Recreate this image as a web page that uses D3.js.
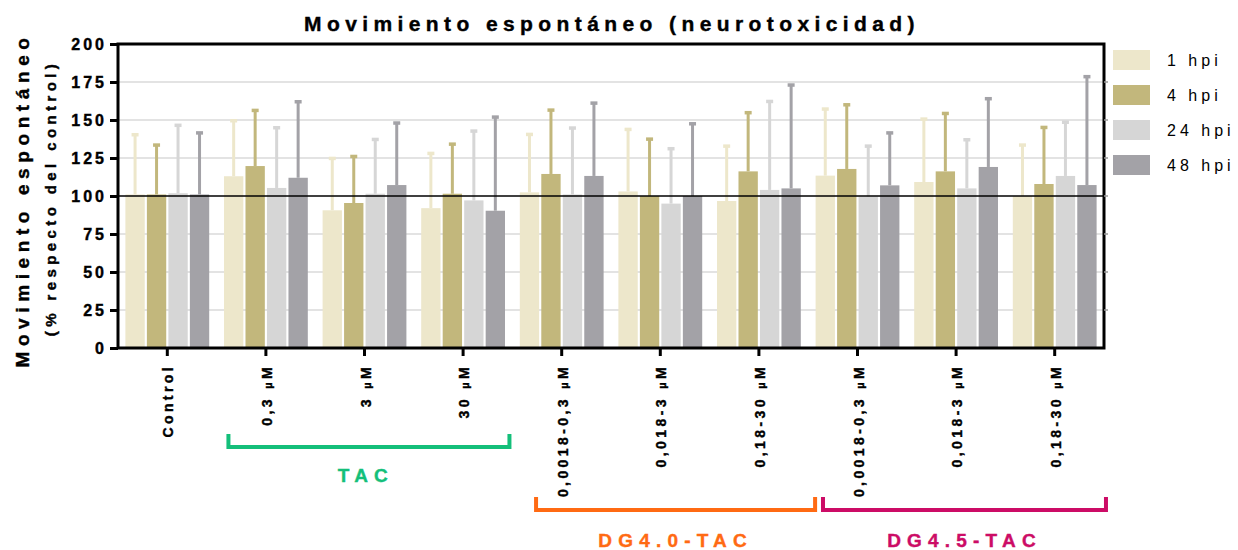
<!DOCTYPE html>
<html>
<head>
<meta charset="utf-8">
<script src="https://cdn.jsdelivr.net/npm/d3@7"></script>
<style>
  body { margin: 0; background: #fff; }
  svg { display: block; font-family: "Liberation Sans", Arial, sans-serif; }
  .heavy { stroke: currentColor; stroke-width: 0.4px; }
</style>
</head>
<body>
<svg id="chart" width="1238" height="550"></svg>
<script>
// categories on the x axis (dose, µM shown as tspan)
const categories = ["Control", "0,3", "3", "30", "0,0018-0,3", "0,018-3", "0,18-30", "0,0018-0,3", "0,018-3", "0,18-30"];
const series = ["1 hpi", "4 hpi", "24 hpi", "48 hpi"];
const colors = ["#ede7cb", "#c2b77c", "#d6d6d6", "#a3a2a7"];

// mean values (% of control) per series
const hpi1  = [101, 113, 90.6, 92, 102.4, 103, 96.7, 113.4, 109.2, 100];
const hpi4  = [101, 119.7, 95.4, 101.5, 114.5, 100, 116.2, 117.8, 116.2, 107.9];
const hpi24 = [101.8, 105.3, 101.5, 97.1, 101, 95, 104, 99.6, 105, 113.2];
const hpi48 = [101, 112, 107.2, 90.3, 113.2, 100, 105, 107, 119.1, 107.2];

// upper end of the error bars
const err1  = [140.8, 150, 125.2, 128.5, 141, 144.3, 133.3, 157.7, 151.1, 134];
const err4  = [134, 156.8, 126.5, 134.6, 157, 137.9, 155.3, 160.5, 154.8, 145.6];
const err24 = [147, 145.4, 137.7, 143.2, 145.2, 131.6, 162.7, 133.3, 137.5, 149];
const err48 = [142, 162.5, 148.5, 152.4, 161.6, 148, 173.5, 142, 164.5, 179];

const yTicks = [0, 25, 50, 75, 100, 125, 150, 175, 200];

// group brackets under the axis, in category index units
const groupNames = ["TAC", "DG4.0-TAC", "DG4.5-TAC"];
const groupFrom = [0.62, 3.74, 6.65];
const groupTo = [3.47, 6.57, 9.52];
const groupColors = ["#14bf7a", "#ff6a13", "#cc0c66"];

const values = [hpi1, hpi4, hpi24, hpi48];
const errors = [err1, err4, err24, err48];

const svg = d3.select("#chart");
const margin = { left: 118, right: 134, top: 44, bottom: 202 };
const W = 1238, H = 550;

const x0 = d3.scaleBand()
    .domain(d3.range(categories.length))
    .range([margin.left, W - margin.right])
    .paddingInner(0.15)
    .paddingOuter(0.075);

const x1 = d3.scaleBand()
    .domain(d3.range(series.length))
    .range([0, x0.bandwidth()])
    .paddingInner(0.1);

const y = d3.scaleLinear().domain([0, 200]).range([H - margin.bottom, margin.top]);

const xIdx = d3.scaleLinear()
    .domain([0, categories.length - 1])
    .range([x0(0) + x0.bandwidth() / 2, x0(categories.length - 1) + x0.bandwidth() / 2]);

// gridlines
svg.append("g")
    .selectAll("line")
    .data(yTicks.filter(t => t > 0 && t < 200 && t !== 100))
    .join("line")
    .attr("x1", margin.left).attr("x2", W - margin.right)
    .attr("y1", d => y(d)).attr("y2", d => y(d))
    .attr("stroke", "#dadada")
    .attr("stroke-width", 1.5);

// bars
const rows = [];
categories.forEach((c, i) => series.forEach((s, j) => rows.push({ i, j, v: values[j][i], e: errors[j][i] })));

const bars = svg.append("g");
bars.selectAll("line.err")
    .data(rows)
    .join("line")
    .attr("class", "err")
    .attr("x1", d => x0(d.i) + x1(d.j) + x1.bandwidth() / 2)
    .attr("x2", d => x0(d.i) + x1(d.j) + x1.bandwidth() / 2)
    .attr("y1", d => y(d.v))
    .attr("y2", d => y(d.e))
    .attr("stroke", d => colors[d.j])
    .attr("stroke-width", 3);

bars.selectAll("rect.cap")
    .data(rows)
    .join("rect")
    .attr("class", "cap")
    .attr("x", d => x0(d.i) + x1(d.j) + x1.bandwidth() / 2 - 3.5)
    .attr("y", d => y(d.e) - 1)
    .attr("width", 7)
    .attr("height", 3.5)
    .attr("fill", d => colors[d.j]);

bars.selectAll("rect.bar")
    .data(rows)
    .join("rect")
    .attr("class", "bar")
    .attr("x", d => x0(d.i) + x1(d.j))
    .attr("y", d => y(d.v))
    .attr("width", x1.bandwidth())
    .attr("height", d => y(0) - y(d.v))
    .attr("fill", d => colors[d.j]);

// reference line at 100
svg.append("line")
    .attr("x1", margin.left).attr("x2", W - margin.right)
    .attr("y1", y(100)).attr("y2", y(100))
    .attr("stroke", "#000")
    .attr("stroke-width", 1.5);

// frame
svg.append("rect")
    .attr("x", margin.left).attr("y", margin.top)
    .attr("width", W - margin.right - margin.left)
    .attr("height", y(0) - margin.top)
    .attr("fill", "none")
    .attr("stroke", "#000")
    .attr("stroke-width", 3);

// left axis
const yAxis = svg.append("g")
    .attr("transform", `translate(${margin.left},0)`)
    .call(d3.axisLeft(y).tickValues(yTicks).tickSize(8).tickPadding(6));
yAxis.select(".domain").remove();
yAxis.selectAll(".tick line").attr("stroke-width", 3);
yAxis.selectAll(".tick text")
    .attr("class", "heavy")
    .attr("font-size", 16).attr("font-weight", "bold")
    .attr("letter-spacing", 3).attr("dx", 3).attr("fill", "#000");

// small ticks on the right side
svg.append("g")
    .selectAll("line")
    .data(yTicks.filter(t => t > 0 && t < 200))
    .join("line")
    .attr("x1", W - margin.right).attr("x2", W - margin.right + 4)
    .attr("y1", d => y(d)).attr("y2", d => y(d))
    .attr("stroke", "#999").attr("stroke-width", 1.5);

// bottom axis
const xAxis = svg.append("g")
    .attr("transform", `translate(0,${y(0)})`)
    .call(d3.axisBottom(x0).tickSize(8).tickFormat(""));
xAxis.select(".domain").remove();
xAxis.selectAll(".tick line").attr("stroke-width", 3);

const xl = svg.append("g")
    .selectAll("text")
    .data(categories)
    .join("text")
    .attr("class", "heavy")
    .attr("transform", (d, i) => `translate(${x0(i) + x0.bandwidth() / 2 + 6},${y(0) + 16}) rotate(-90)`)
    .attr("text-anchor", "end")
    .attr("font-size", 14)
    .attr("font-weight", "bold")
    .attr("letter-spacing", 3.4);
xl.append("tspan").text(d => d);
xl.filter((d, i) => i > 0).append("tspan").text(" ");
xl.filter((d, i) => i > 0).append("tspan").attr("font-size", 11).text("µ");
xl.filter((d, i) => i > 0).append("tspan").text("M");

// title
svg.append("text")
    .attr("class", "heavy")
    .attr("x", 612).attr("y", 31)
    .attr("text-anchor", "middle")
    .attr("font-size", 21).attr("font-weight", "bold")
    .attr("letter-spacing", 5.4)
    .text("Movimiento espontáneo (neurotoxicidad)");

// y axis titles
svg.append("text")
    .attr("class", "heavy")
    .attr("transform", `translate(29,${(margin.top + y(0)) / 2 + 4}) rotate(-90)`)
    .attr("text-anchor", "middle")
    .attr("font-size", 19).attr("font-weight", "bold")
    .attr("letter-spacing", 5.6)
    .text("Movimiento espontáneo");
svg.append("text")
    .attr("class", "heavy")
    .attr("transform", `translate(56,${(margin.top + y(0)) / 2 + 2}) rotate(-90)`)
    .attr("text-anchor", "middle")
    .attr("font-size", 15).attr("font-weight", "bold")
    .attr("letter-spacing", 4.4)
    .text("(% respecto del control)");

// legend
const legend = svg.append("g")
    .selectAll("g")
    .data(series)
    .join("g")
    .attr("transform", (d, i) => `translate(1113,${50 + i * 35})`);
legend.append("rect")
    .attr("width", 37).attr("height", 20)
    .attr("fill", (d, i) => colors[i]);
legend.append("text")
    .attr("x", 54).attr("y", 16)
    .attr("font-size", 16)
    .attr("letter-spacing", 4)
    .text(d => d);

// group brackets
const br = svg.append("g")
    .selectAll("g")
    .data(groupNames)
    .join("g");
br.append("path")
    .attr("d", (d, i) => {
        const a = xIdx(groupFrom[i]), b = xIdx(groupTo[i]);
        const top = i === 0 ? 434 : 497, bot = i === 0 ? 447 : 510;
        return `M${a},${top}V${bot}H${b}V${top}`;
    })
    .attr("fill", "none")
    .attr("stroke", (d, i) => groupColors[i])
    .attr("stroke-width", 4);
br.append("text")
    .attr("class", "heavy")
    .attr("x", (d, i) => (xIdx(groupFrom[i]) + xIdx(groupTo[i])) / 2 + (i === 0 ? -3 : 0))
    .attr("y", (d, i) => i === 0 ? 482 : 547)
    .attr("text-anchor", "middle")
    .attr("font-size", 19).attr("font-weight", "bold")
    .attr("letter-spacing", 6.2)
    .attr("fill", (d, i) => groupColors[i])
    .style("color", (d, i) => groupColors[i])
    .text(d => d);
</script>
</body>
</html>
